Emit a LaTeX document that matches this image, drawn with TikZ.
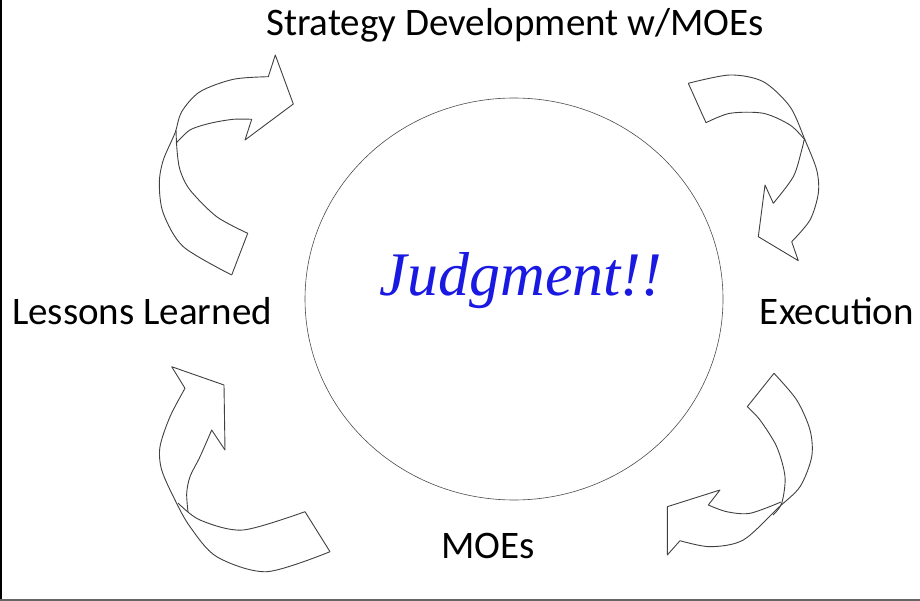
\documentclass[tikz,border=0pt]{standalone}
\usepackage{fontspec}
\setmainfont{Carlito}
\newfontfamily\judgefont{Liberation Serif}
\usetikzlibrary{positioning,shapes.geometric}
\definecolor{judgeblue}{RGB}{25,25,225}

\begin{document}
\begin{tikzpicture}[x=1pt,y=-1pt,
    band/.style={draw=black!75,line width=0.9pt,line join=round},
    lbl/.style={font=\fontsize{39}{45}\selectfont,anchor=base,inner sep=0pt}]
    \useasboundingbox (0,0) rectangle (920,601);
    \draw[line width=2.5pt] (1,0) -- (1,601);
    \draw[black!60,line width=1.5pt] (0,600) -- (920,600);

    \node[draw=black!70,line width=0.6pt,ellipse,minimum width=418pt,minimum height=402pt] (judge) at (514,299) {};
    \node[anchor=base,text=judgeblue,font=\judgefont\itshape\fontsize{62}{70}\selectfont] (jtext) at (521,295) {Judgment!!};

    \node[lbl] (strat) at (515,36) {Strategy Development w/MOEs};
    \node[lbl] (lessons) at (142,324) {Lessons Learned};
    \node[lbl] (exec) at (837,324) {Execution};
    \node[lbl] (moes) at (488,558) {MOEs};

    % top left arrow
    \draw[band] plot[smooth] coordinates {(231.7,275) (183.3,246.7) (163.3,213.3) (159.3,183.3) (163.3,160) (175,133) (181.7,111.7) (200,91.7) (233.3,79.3) (268.3,76.7)}
      -- (275.3,55) -- (293.3,104) -- (245,140)
      -- plot[smooth] coordinates {(251.7,119.3) (233.3,119.3) (210,123.3) (190,130) (176,143.3)};
    \draw[band] plot[smooth] coordinates {(176,130) (177,150) (180,170) (190,190) (216.7,216.7) (247.7,233.3)} -- (231.7,275);

    % top right arrow
    \draw[band] plot[smooth] coordinates {(688.3,83.3) (730,75) (763.3,81.7) (790,106.7) (805,140) (816.7,170) (818.3,193.3) (810,220) (791.7,241.7)}
      -- (798.3,260.7) -- (758.3,236.7) -- (765,185)
      -- plot[smooth] coordinates {(773.3,203.3) (793.3,176.7) (801.7,150) (804,140)};
    \draw[band] plot[smooth] coordinates {(805,140) (790,125) (763.3,113.3) (730,113.3) (706,122.7)} -- (688.3,83.3);

    % bottom left arrow
    \draw[band] plot[smooth] coordinates {(330,551.7) (266.7,571.7) (216.7,556.7) (190,526.7) (175,500) (161.7,470) (160,446.7) (170,416.7) (185,388.3)}
      -- (171.7,366.7) -- (224,385) -- (225,450)
      -- plot[smooth] coordinates {(211.7,430) (200,456.7) (190,476.7) (186.7,493.3) (188,512)};
    \draw[band] plot[smooth] coordinates {(178,503) (200,520) (243,530) (305,511.7)} -- (330,551.7);

    % bottom right arrow
    \draw[band] plot[smooth] coordinates {(774,373.3) (796.7,400) (810,430) (811.7,456.7) (800,486.7) (778,508) (743.3,540) (710,546.7) (680,540.7)}
      -- (667.3,555) -- (667.3,506.7) -- (720,490)
      -- plot[smooth] coordinates {(708.3,505) (726.7,511.7) (750,513.3) (781,502)};
    \draw[band] plot[smooth] coordinates {(773,515) (781.7,503.3) (785,476.7) (776.7,446.7) (760,420) (747.3,406.7)} -- (774,373.3);
\end{tikzpicture}
\end{document}
